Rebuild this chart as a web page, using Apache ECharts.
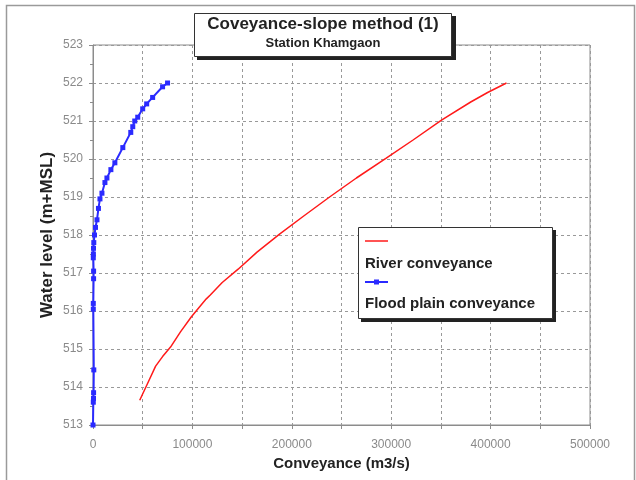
<!DOCTYPE html>
<html>
<head>
<meta charset="utf-8">
<script src="https://cdn.jsdelivr.net/npm/echarts@6/dist/echarts.min.js"></script>
<style>
html,body{margin:0;padding:0;background:#fff;}
#chart{width:636px;height:480px;}
</style>
</head>
<body>
<div id="chart"></div>
<script>
// Data
var titleText = 'Coveyance-slope method (1)';
var subtitleText = 'Station Khamgaon';
var xAxisName = 'Conveyance (m3/s)';
var yAxisName = 'Water level (m+MSL)';
var riverName = 'River conveyance';
var floodName = 'Flood plain conveyance';

// River conveyance: [conveyance, water level]
var riverConveyance = [47000, 55000, 63000, 70000, 78000, 88000, 99000, 110000, 114000, 118000, 130000, 146000, 165000, 188000, 212000, 238000, 265000, 295000, 322000, 351000, 380000, 397000, 416000];
var riverLevel = [513.65, 514.1, 514.55, 514.8, 515.05, 515.45, 515.85, 516.2, 516.32, 516.42, 516.75, 517.1, 517.55, 518.03, 518.5, 519.0, 519.5, 520.02, 520.5, 521.03, 521.5, 521.75, 522.0];

// Flood plain conveyance
var floodConveyance = [75000, 70000, 60000, 54000, 50000, 45000, 42000, 40000, 38000, 30000, 22000, 18000, 14000, 12000, 9000, 7000, 5500, 4000, 2500, 1500, 800, 500, 400, 300, 600, 600, 300, 300, 800, 600, 500, 300, 0];
var floodLevel = [522.0, 521.9, 521.62, 521.45, 521.32, 521.1, 521.0, 520.85, 520.7, 520.3, 519.9, 519.72, 519.5, 519.38, 519.1, 518.95, 518.7, 518.4, 518.2, 518.0, 517.8, 517.65, 517.5, 517.4, 517.05, 516.85, 516.2, 516.05, 514.45, 513.85, 513.7, 513.6, 513.0];

var xMin = 0, xMax = 500000, xStep = 100000;
var yMin = 513, yMax = 523, yStep = 1;

function zip(a, b) { return a.map(function (v, i) { return [v, b[i]]; }); }

var FONT = '"Liberation Sans", Arial, sans-serif';
var chart = echarts.init(document.getElementById('chart'));

chart.setOption({
  backgroundColor: '#ffffff',
  animation: false,
  grid: {
    left: 93, right: 46, top: 45, bottom: 55,
    show: true, borderColor: '#8c8c8c', borderWidth: 1, backgroundColor: 'transparent'
  },
  xAxis: {
    type: 'value', min: xMin, max: xMax, interval: xStep,
    name: xAxisName, nameLocation: 'middle', nameGap: 30,
    nameTextStyle: { fontFamily: FONT, fontWeight: 'bold', fontSize: 15, color: '#222' },
    axisLine: { show: true, lineStyle: { color: '#8c8c8c', width: 1 } },
    axisTick: { show: true, length: 4, lineStyle: { color: '#8c8c8c' } },
    minorTick: { show: true, splitNumber: 2, length: 4, lineStyle: { color: '#8c8c8c' } },
    axisLabel: { fontFamily: FONT, fontSize: 12, color: '#8a8a8a', margin: 14, formatter: function (v) { return String(v); } },
    splitLine: { show: true, lineStyle: { color: '#999', type: [3, 3], width: 1 } },
    minorSplitLine: { show: true, lineStyle: { color: '#999', type: [3, 3], width: 1 } }
  },
  yAxis: {
    type: 'value', min: yMin, max: yMax, interval: yStep,
    name: yAxisName, nameLocation: 'middle', nameGap: 37, nameRotate: 90, nameMoveOverlap: false,
    nameTextStyle: { fontFamily: FONT, fontWeight: 'bold', fontSize: 17, color: '#222' },
    axisLine: { show: true, lineStyle: { color: '#8c8c8c', width: 1 } },
    axisTick: { show: true, length: 4, lineStyle: { color: '#8c8c8c' } },
    minorTick: { show: true, splitNumber: 2, length: 3, lineStyle: { color: '#8c8c8c' } },
    axisLabel: { fontFamily: FONT, fontSize: 12, color: '#8a8a8a', margin: 10 },
    splitLine: { show: true, lineStyle: { color: '#999', type: [3, 3], width: 1 } }
  },
  series: [
    {
      name: riverName, type: 'line', data: zip(riverConveyance, riverLevel),
      showSymbol: false, symbol: 'none',
      lineStyle: { color: '#ff1a1a', width: 1.5 }, z: 3
    },
    {
      name: floodName, type: 'line', data: zip(floodConveyance, floodLevel),
      symbol: 'rect', symbolSize: 5, showSymbol: true,
      itemStyle: { color: '#2a2aff' },
      lineStyle: { color: '#2a2aff', width: 2 }, z: 4
    }
  ],
  graphic: [
    // outer frame
    { type: 'rect', shape: { x: 6.5, y: 5.5, width: 628, height: 480 }, style: { fill: 'none', stroke: '#9a9a9a', lineWidth: 1.5 }, z: 0, silent: true },
    // title box with shadow
    { type: 'rect', shape: { x: 197, y: 16, width: 259, height: 44 }, style: { fill: '#222' }, z: 10 },
    { type: 'rect', shape: { x: 194.5, y: 13.5, width: 257, height: 43 }, style: { fill: '#fff', stroke: '#333', lineWidth: 1 }, z: 11 },
    { type: 'text', style: { x: 323, y: 24, text: titleText, font: 'bold 17px ' + FONT, fill: '#222', textAlign: 'center', textVerticalAlign: 'middle' }, z: 12 },
    { type: 'text', style: { x: 323, y: 43, text: subtitleText, font: 'bold 13px ' + FONT, fill: '#222', textAlign: 'center', textVerticalAlign: 'middle' }, z: 12 },
    // legend box with shadow
    { type: 'rect', shape: { x: 361, y: 230, width: 195, height: 92 }, style: { fill: '#222' }, z: 10 },
    { type: 'rect', shape: { x: 358.5, y: 227.5, width: 194, height: 91 }, style: { fill: '#fff', stroke: '#333', lineWidth: 1 }, z: 11 },
    { type: 'line', shape: { x1: 365, y1: 241, x2: 388, y2: 241 }, style: { stroke: '#ff1a1a', lineWidth: 1.5 }, z: 12 },
    { type: 'text', style: { x: 365, y: 264, text: riverName, font: 'bold 15px ' + FONT, fill: '#222', textVerticalAlign: 'middle' }, z: 12 },
    { type: 'line', shape: { x1: 365, y1: 282, x2: 388, y2: 282 }, style: { stroke: '#2a2aff', lineWidth: 2 }, z: 12 },
    { type: 'rect', shape: { x: 374, y: 279.5, width: 5, height: 5 }, style: { fill: '#2a2aff' }, z: 12 },
    { type: 'text', style: { x: 365, y: 304, text: floodName, font: 'bold 15px ' + FONT, fill: '#222', textVerticalAlign: 'middle' }, z: 12 }
  ]
});
</script>
</body>
</html>
